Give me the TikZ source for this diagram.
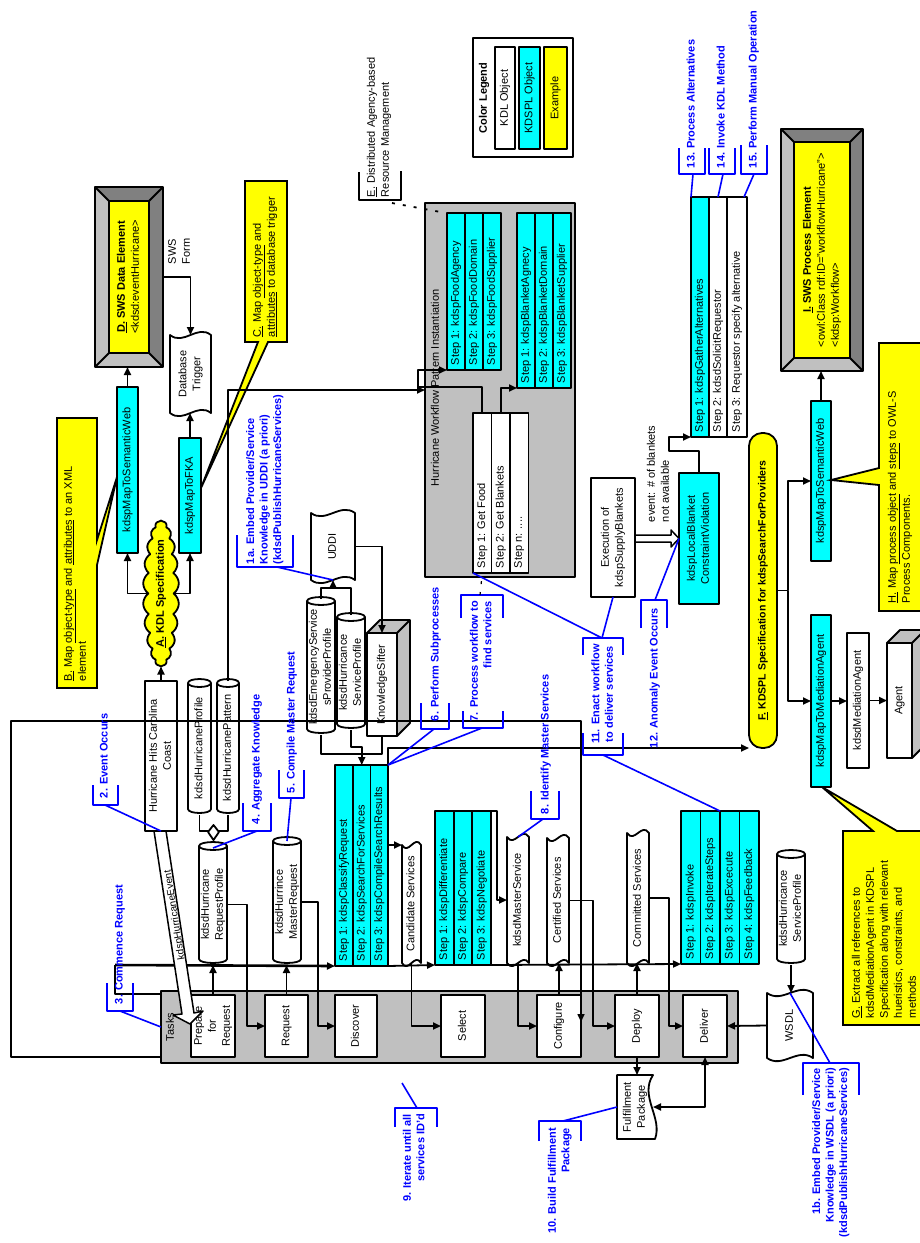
\documentclass[tikz,border=0pt]{standalone}
\usepackage{fontspec}
\setmainfont{Liberation Sans}
\usepackage{graphicx}
\usetikzlibrary{arrows.meta, shapes.geometric, shapes.symbols, positioning, calc}

\definecolor{kdsplcyan}{RGB}{0,255,255}
\definecolor{exyellow}{RGB}{255,255,0}
\definecolor{lanegray}{RGB}{192,192,192}
\definecolor{bvldark}{RGB}{128,128,128}
\definecolor{notebl}{RGB}{0,0,255}

% rotated text helpers
\newcommand\rt[2][c]{\rotatebox{90}{\begin{tabular}{@{}#1@{}}#2\end{tabular}}}
\newcommand\stp[2]{\rotatebox{90}{\makebox[#1pt][l]{\hspace{5pt}#2}}}

\tikzset{
  kdlbox/.style={
    rectangle, draw, line width=1.8pt, fill=white,
    inner sep=0pt, outer sep=0pt
  },
  kdsplbox/.style={kdlbox, fill=kdsplcyan},
  examplebox/.style={kdlbox, fill=exyellow},
  taskbox/.style={kdlbox, minimum width=44pt, minimum height=62pt},
  stepcell/.style={kdlbox, fill=#1, minimum width=18pt},
  stepcell/.default=kdsplcyan,
  plain/.style={inner sep=0pt, outer sep=0pt},
  flow/.style={line width=1.8pt, -{Triangle[length=8pt, width=7pt]}},
  link/.style={line width=1.8pt},
  note/.style={inner sep=0pt, outer sep=0pt, text=notebl,
    font=\fontsize{11}{13.5}\selectfont\bfseries},
  notebar/.style={draw=notebl, line width=1.6pt},
  callout/.style={fill=exyellow, draw, line width=1.8pt, line join=miter},
}

% shapes drawn round a named node: name, cx, cy, w, h, text
\newcommand\cylnode[6]{%
  \draw[link, fill=white]
    ({#2-#4/2},{#3-#5/2+4}) -- ({#2-#4/2},{#3+#5/2-4})
      .. controls ({#2-#4/2},{#3+#5/2+1.3}) and ({#2+#4/2},{#3+#5/2+1.3}) .. ({#2+#4/2},{#3+#5/2-4})
    -- ({#2+#4/2},{#3-#5/2+4})
      .. controls ({#2+#4/2},{#3-#5/2-1.3}) and ({#2-#4/2},{#3-#5/2-1.3}) .. cycle;
  \draw[link] ({#2-#4/2},{#3-#5/2+4})
      .. controls ({#2-#4/2},{#3-#5/2+9.3}) and ({#2+#4/2},{#3-#5/2+9.3}) .. ({#2+#4/2},{#3-#5/2+4});
  \node[plain, minimum width=#4pt, minimum height=#5pt] (#1) at (#2,{#3+2}) {\rt{#6}};}
\newcommand\tapenode[6]{%
  \draw[link, fill=white]
    ({#2-#4/2},{#3-#5/2})
      .. controls ({#2-#4/6},{#3-#5/2+11}) and ({#2+#4/6},{#3-#5/2-11}) .. ({#2+#4/2},{#3-#5/2})
    -- ({#2+#4/2},{#3+#5/2})
      .. controls ({#2+#4/6},{#3+#5/2-11}) and ({#2-#4/6},{#3+#5/2+11}) .. ({#2-#4/2},{#3+#5/2})
    -- cycle;
  \node[plain, minimum width=#4pt, minimum height=#5pt] (#1) at (#2,#3) {\rt{#6}};}
\newcommand\docnode[6]{%
  \draw[link, fill=white]
    ({#2-#4/2},{#3-#5/2}) -- ({#2+#4/2},{#3-#5/2})
      .. controls ({#2+#4/2-14},{#3-#5/6}) and ({#2+#4/2+10},{#3+#5/6}) .. ({#2+#4/2+2},{#3+#5/2})
    -- ({#2-#4/2},{#3+#5/2}) -- cycle;
  \node[plain, minimum width=#4pt, minimum height=#5pt] (#1) at (#2,#3) {\rt{#6}};}
\newcommand\cubenode[6]{%
  \node[kdlbox, minimum width=#4pt, minimum height=#5pt] (#1) at (#2,#3) {\rt{#6}};
  \draw[link, fill=lanegray] (#1.north west) -- ++(13,-13) -- ([shift={(13,-13)}]#1.north east)
    -- ([shift={(13,-13)}]#1.south east) -- (#1.south east) -- (#1.north east) -- cycle;
  \draw[link] (#1.north east) -- ++(13,-13);}
\newcommand\bevelnode[7]{%
  \node[plain, minimum width=#4pt, minimum height=#5pt] (#1) at (#2,#3) {};
  \fill[lanegray] (#1.north west) rectangle (#1.south east);
  \fill[bvldark] (#1.north west) -- (#1.north east) -- (#1.south east)
    -- ([shift={(-#6,-#6)}]#1.south east) -- ([shift={(-#6,#6)}]#1.north east)
    -- ([shift={(#6,#6)}]#1.north west) -- cycle;
  \draw[link] (#1.north west) rectangle (#1.south east);
  \draw[link] (#1.north west) -- ++(#6,#6) (#1.north east) -- ++(-#6,#6)
    (#1.south east) -- ++(-#6,-#6) (#1.south west) -- ++(#6,-#6);
  \node[examplebox, minimum width={(#4-2*#6)*1pt}, minimum height={(#5-2*#6)*1pt}] (#1-in) at (#2,#3) {#7};}

\begin{document}
\begin{tikzpicture}[x=1pt, y=-1pt, font=\fontsize{11}{14}\selectfont, line join=round]
\useasboundingbox (0,0) rectangle (920,1243);

% colour legend
\node[kdlbox, minimum width=100pt, minimum height=119pt] (legend) at (523,97.5) {};
\node[plain, font=\fontsize{11}{14}\selectfont\bfseries] (legtitle) at (484,98) {\rt{Color Legend}};
\node[kdlbox, minimum width=20pt, minimum height=102pt] (kdlkey) at (505,98) {\rt{KDL Object}};
\node[kdsplbox, minimum width=21pt, minimum height=102pt] (kdsplkey) at (529.5,98) {\rt{KDSPL Object}};
\node[examplebox, minimum width=23pt, minimum height=102pt] (exkey) at (555.5,98) {\rt{Example}};

% workflow pattern
\node[kdlbox, fill=lanegray, minimum width=150pt, minimum height=374pt] (wfbox) at (500,390) {};
\node[plain] (wftitle) at (436,388) {\rt{Hurricane Workflow Pattern Instantiation}};
\node[stepcell] (fs1) at (456,291.5) {\stp{157}{Step 1: kdspFoodAgency}};
\node[stepcell, right=0pt of fs1] (fs2) {\stp{157}{Step 2: kdspFoodDomain}};
\node[stepcell, right=0pt of fs2] (fs3) {\stp{157}{Step 3: kdspFoodSupplier}};
\node[stepcell] (bs1) at (526,300.5) {\stp{175}{Step 1: kdspBlanketAgnecy}};
\node[stepcell, right=0pt of bs1] (bs2) {\stp{175}{Step 2: kdspBlanketDomain}};
\node[stepcell, right=0pt of bs2] (bs3) {\stp{175}{Step 3: kdspBlanketSupplier}};
\node[stepcell=white, minimum width=18.5pt] (wf1) at (482.25,493) {\stp{160}{Step 1: Get Food}};
\node[stepcell=white, minimum width=18.5pt, right=0pt of wf1] (wf2) {\stp{160}{Step 2: Get Blankets}};
\node[stepcell=white, minimum width=18.5pt, right=0pt of wf2] (wf3) {\stp{160}{Step n: ....}};
\draw[flow] (wf1.north) |- (418,387) |- (fs1.south west);
\draw[flow] (wf2.north) |- (bs1.south west);

\node[plain, anchor=south] (enote) at (379,197) {\rt[l]{\underline{E.} Distributed Agency-based\\Resource Management}};
\draw[link, line width=1.5pt] (359,172) -- (359,200) -- (401,200) -- (401,171);
\draw[link, dash pattern=on 3pt off 8pt] (392,203) -- ([shift={(21,10)}]wfbox.north west);

% KDL side
\bevelnode{swsdata}{129}{277}{68}{180}{14}{\rt{\bfseries\underline{D.} SWS Data Element\\<kdsd:eventHurricane>}}
\node[plain, anchor=south] (swsform) at (180,264) {\rt[l]{SWS\\Form}};
\tapenode{dbtrig}{190.5}{374}{41}{78}{Database\\Trigger}
\draw[callout] (245,181) -- (287,181) -- (287,342) -- (268,342) -- (201,488) -- (258,342) -- (245,342) -- cycle;
\node[plain, anchor=south] (cnote) at (265,337) {\rt[l]{\underline{C.} Map \underline{object-type} and\\\underline{attributes} to database trigger}};
\draw[callout] (57,418) -- (97,418) -- (97,540) -- (117,477) -- (97,565) -- (97,688) -- (57,688) -- cycle;
\node[plain, anchor=south] (bnote) at (76,681) {\rt[l]{\underline{B.} Map \underline{object-type} and \underline{attributes} to an XML\\element}};
\node[kdsplbox, minimum width=21pt, minimum height=166pt] (semweb1) at (127.5,470) {\rt{kdspMapToSemanticWeb}};
\node[kdsplbox, minimum width=22pt, minimum height=115pt] (mapfka) at (190,495.5) {\rt{kdspMapToFKA}};
\node[examplebox, cloud, cloud puffs=22, cloud puff arc=110, cloud ignores aspect,
      minimum width=36pt, minimum height=146pt] (kdl) at (161,593.5) {};
\node[plain, font=\fontsize{11}{14}\selectfont\bfseries] (kdltxt) at (kdl) {\rt{\underline{A.} KDL Specification}};
\node[kdlbox, minimum width=32pt, minimum height=150pt] (hurricane) at (161,756) {\rt{Hurricane Hits Carolina\\Coast}};
\cylnode{hprofile}{199.5}{746}{23}{134}{kdsdHurricaneProfile}
\cylnode{hpattern}{228}{746}{22}{134}{kdsdHurricanePattern}
\cylnode{reqprof}{213}{902.5}{28}{121}{kdsdHurricane\\RequestProfile}
\cylnode{masterreq}{287}{900}{28}{126}{kdsdHurrince\\MasterRequest}
\draw[link] (hprofile.south) -- ++(0,16) -| (hpattern.south);
\draw[link, fill=white] (213.5,825) -- (219,832) -- (213.5,840) -- (208,832) -- cycle;

\draw[flow] (hurricane.north) -- (kdl.south);
\draw[flow] (kdl.west) -| (semweb1.south);
\draw[flow] (kdl.east) -| (mapfka.south);
\draw[flow] (semweb1.north) -- (semweb1.north |- swsdata.south);
\draw[flow] (swsdata.east) -| (dbtrig.north);
\draw[flow] (mapfka.north) -- (mapfka.north |- dbtrig.south);
\draw[flow] (hpattern.north) |- (wfbox.west);

% UDDI and KnowledgeSifter
\tapenode{uddi}{333}{546.5}{44}{67}{UDDI}
\cylnode{emerg}{321}{665}{28}{136}{kdsdEmergencyService\\sProviderProfile}
\cylnode{hserv}{351}{670.5}{28}{115}{kdsdHurricance\\ServiceProfile}
\cubenode{sifter}{382}{684.5}{30}{103}{KnowledgeSifter}
\coordinate (hub) at (333,588);
\draw[link] (emerg.north) |- (hub) -| (hserv.north);
\draw[flow] (hub) -- (uddi.south);
\draw[flow] (uddi.east) -| (sifter.north);
\draw[link] (emerg.south) -- ++(0,19) -| (sifter.south);

% tasks lane
\node[kdlbox, fill=lanegray, minimum width=577pt, minimum height=72pt] (lane) at (449.5,1027) {};
\node[plain] (tasks) at (171,1027) {\rt{Tasks}};
\node[taskbox] (prep) at (213,1026) {\rt{Prepare\\for\\Request}};
\node[taskbox, minimum width=43pt] (request) at (286.5,1026) {\rt{Request}};
\node[taskbox, minimum width=42pt] (discover) at (356,1026) {\rt{Discover}};
\node[taskbox] (select) at (463,1026) {\rt{Select}};
\node[taskbox] (configure) at (559,1026) {\rt{Configure}};
\node[taskbox] (deploy) at (637,1026) {\rt{Deploy}};
\node[taskbox] (deliver) at (705,1026) {\rt{Deliver}};

% KDSPL step groups
\node[stepcell] (cs1) at (344,865.5) {\stp{201}{Step 1: kdspClassifyRequest}};
\node[stepcell, minimum width=17.5pt, right=0pt of cs1] (cs2) {\stp{201}{Step 2: kdspSearchForServices}};
\node[stepcell, minimum width=17.5pt, right=0pt of cs2] (cs3) {\stp{201}{Step 3: kdspCompileSearchResults}};
\node[stepcell, minimum width=18.7pt] (ds1) at (444.3,888) {\stp{154}{Step 1: kdspDifferentiate}};
\node[stepcell, minimum width=18.7pt, right=0pt of ds1] (ds2) {\stp{154}{Step 2: kdspCompare}};
\node[stepcell, minimum width=18.7pt, right=0pt of ds2] (ds3) {\stp{154}{Step 3: kdspNegotiate}};
\node[stepcell, minimum width=19.5pt] (iv1) at (690.75,887.5) {\stp{153}{Step 1: kdspInvoke}};
\node[stepcell, minimum width=19.5pt, right=0pt of iv1] (iv2) {\stp{153}{Step 2: kdspIterateSteps}};
\node[stepcell, minimum width=19.5pt, right=0pt of iv2] (iv3) {\stp{153}{Step 3: kdspExcecute}};
\node[stepcell, minimum width=19.5pt, right=0pt of iv3] (iv4) {\stp{153}{Step 4: kdspFeedback}};

\tapenode{cand}{411.5}{904}{19}{118}{Candidate Services}
\tapenode{mserv}{518}{900}{22}{126}{kdsdMasterService}
\tapenode{cert}{558}{900.5}{22}{125}{Certified Services}
\tapenode{commit}{638}{898}{22}{130}{Committed Services}
\cylnode{hsp2}{791}{906.5}{28}{113}{kdsdHurricance\\ServiceProfile}
\tapenode{wsdl}{790}{1025.5}{46}{65}{WSDL}
\docnode{fulfil}{635}{1107}{36}{64}{Fulfillment\\Package}

% flow along the lane
\draw[flow] (prep.north) -- (prep.north |- reqprof.south);
\draw[flow] (reqprof.east) -- ++(20,0) |- (request.west);
\draw[flow] (request.north) -- (request.north |- masterreq.south);
\draw[flow] (masterreq.east) -- ++(17,0) |- (discover.west);
\draw[flow] (hserv.south) -- ++(0,17) -| (cs2.north);
\draw[flow] (cs3.east |- cand.north) -- (cand.north west);
\draw[flow] (cand.south) |- (select.west);
\draw[flow] (ds3.north east) -- ++(6,0) |- (mserv.west);
\draw[flow] (mserv.south) |- (configure.west);
\draw[flow] (configure.north) -- (configure.north |- cert.south);
\draw[flow] (cert.east) -- ++(24,0) |- (deploy.west);
\draw[flow] (deploy.north) -- (deploy.north |- commit.south);
\draw[flow] (commit.east) -- ++(20,0) |- (deliver.west);
\draw[flow] (deploy.south) -- (deploy.south |- fulfil.north);
\draw[link, {Triangle[length=8pt, width=7pt]}-{Triangle[length=8pt, width=7pt]}] (deliver.south) |- (fulfil.east);
\draw[flow] (wsdl.west) -- (deliver.east);
\draw[flow] (hsp2.south) -- (hsp2.south |- wsdl.north);

% bus and loops
\coordinate (busL) at (115,965);
\draw[flow, line width=2.6pt] (busL) -- (cs1.south west);
\draw[link, line width=2.6pt] (lane.north west) ++(0,3) -- ++(-46,0) -- (busL);
\draw[flow] (cs3.south east) -- (ds1.south west);
\draw[flow] (ds3.south east) -- (iv1.south west);
\draw[flow, line width=1.5pt] ([yshift=6pt]lane.south west) -| (11,721) -| ([yshift=4pt]configure.east);

% hurricane event
\draw[link, line width=1.5pt, fill=white] (154,831) -- (182,1014) -- (173,1015) -- (190,1024)
  -- (203,1011) -- (194,1013) -- (166,831) -- cycle;
\node[plain, rotate=99, font=\fontsize{10}{12}\selectfont] (hevent) at (175,915) {kdspHurricaneEvent};

% KDSPL specification side
\node[examplebox, rounded corners=13pt, minimum width=28pt, minimum height=315pt,
      font=\fontsize{10.5}{13}\selectfont\bfseries] (fspec) at (763,590.5)
      {\rt{\underline{F.} KDSPL Specification for kdspSearchForProviders}};
\draw[flow] (cs3.north east) |- (fspec.south west);
\node[kdlbox, minimum width=44pt, minimum height=119pt] (exec) at (613,537.5) {\rt{Execution of\\kdspSupplyBlankets}};
\node[kdsplbox, minimum width=40pt, minimum height=131pt] (lbcv) at (699,538.5) {\rt{kdspLocalBlanket\\ConstraintViolation}};
\node[plain, anchor=south] (evtxt) at (659,522) {\rt[l]{event: \# of blankets\\not available}};
\draw[link, line width=1.5pt, fill=white] (635,535) -- (671,535) -- (671,530) -- (679,538.5)
  -- (671,547) -- (671,542) -- (635,542) -- cycle;
\node[stepcell] (al1) at (700,317) {\stp{240}{Step 1: kdspGatherAlternatives}};
\node[stepcell=white, right=0pt of al1] (al2) {\stp{240}{Step 2: kdsdSolicitRequestor}};
\node[stepcell=white, minimum width=20pt, right=0pt of al2] (al3) {\stp{240}{Step 3: Requestor specify alternative}};
\draw[flow] (lbcv.north) |- (669,451) |- (al1.south west);

\bevelnode{swsproc}{822}{250}{82}{242}{13}{\rt[l]{\multicolumn{1}{@{}c@{}}{\bfseries\underline{I.} SWS Process Element}\\<owl:Class rdf:ID="workflowHurricane">\\<kdsp:Workflow>}}
\node[kdsplbox, minimum width=20pt, minimum height=160pt] (semweb2) at (821,481) {\rt{kdspMapToSemanticWeb}};
\node[kdsplbox, minimum width=20pt, minimum height=172pt] (mediation) at (821,701) {\rt{kdspMapToMediationAgent}};
\node[kdlbox, minimum width=22pt, minimum height=135pt] (medagent) at (858,700.5) {\rt{kdsdMediationAgent}};
\cubenode{agent}{899.5}{700.5}{25}{115}{Agent}
\draw[callout] (879,343) -- (935,343) -- (935,611) -- (879,611) -- (879,485) -- (831,480) -- (879,468) -- cycle;
\node[plain, anchor=south] (hnote) at (900,603) {\rt[l]{\underline{H.} Map \underline{process object} and \underline{steps} to OWL-S\\Process Components.}};
\draw[callout] (843,831) -- (873,831) -- (822,787) -- (897,831) -- (935,831) -- (935,1025) -- (843,1025) -- cycle;
\node[plain, anchor=south] (gnote) at (885,1018) {\rt[l]{\underline{G.} Extract all references to\\kdsdMediationAgent in KDSPL\\Specification along with relevant\\hueristics, constraints, and\\methods}};

\draw[flow] (fspec.east) -- ++(11,0) |- (semweb2.west);
\draw[flow] (fspec.east) ++(11,0) |- (mediation.west);
\draw[flow] (semweb2.north) -- (semweb2.north |- swsproc.south);
\draw[flow] (mediation.east) -- (mediation.east -| medagent.west);
\draw[flow] (medagent.east) -- (medagent.east -| agent.west);

% numbered steps
\node[note, anchor=south] (n1a) at (265,564) {\rt[l]{1a. Embed Provider/Service\\Knowledge in UDDI (a priori)\\(kdsdPublishHurricaneServices)}};
\draw[notebar] (237,535) -- (237,567) -- (293,567) -- (293,535);
\draw[notebar] (277,567) -- (uddi.south);
\node[note, anchor=south] (n2) at (105,798) {\rt{2. Event Occurs}};
\draw[notebar] (93,785) -- (93,805) -- (118,805) -- (118,785);
\draw[notebar] (105,805) -- (hurricane.south);
\node[note, anchor=south] (n3) at (120,1004) {\rt{3. Commence Request}};
\draw[notebar] (107,983) -- (107,1011) -- (133,1011) -- (133,983);
\draw[notebar] (120,1011) -- (lane.west);
\node[note, anchor=south] (n4) at (257,824) {\rt{4. Aggregate Knowledge}};
\draw[notebar] (243,803) -- (243,831) -- (271,831) -- (271,803);
\draw[notebar] (257,831) -- ([yshift=-4pt]reqprof.north);
\node[note, anchor=south] (n5) at (292,793) {\rt{5. Compile Master Request}};
\draw[notebar] (279,770) -- (279,798) -- (304,798) -- (304,770);
\draw[notebar] (291,798) -- ([yshift=-2pt]masterreq.north);
\node[note, anchor=south] (n6) at (436,721) {\rt{6. Perform Subprocesses}};
\draw[notebar] (421,703) -- (421,729) -- (449,729) -- (449,703);
\draw[notebar] (434,729) -- (cs3.north east);
\node[note, anchor=north] (n7) at (482,601) {\rt[r]{7. Process workflow to\\find services}};
\draw[notebar] (461,618) -- (461,595) -- (503,595) -- (503,618);
\draw[notebar] (463,711) -- (463,728) -- (503,728) -- (503,711);
\draw[notebar] (482,728) -- (cs3.north east);
\draw[link, line width=1.2pt, dash pattern=on 3pt off 8pt] (480,595) -- (wf1.south);
\node[note, anchor=south] (n8) at (546,814) {\rt{8. Identify Master Services}};
\draw[notebar] (531,791) -- (531,819) -- (559,819) -- (559,791);
\draw[notebar] (543,819) -- (mserv.north);
\node[note, anchor=north] (n9) at (415,1114) {\rt[r]{9. Iterate until all\\services ID'd}};
\draw[notebar] (395,1127) -- (395,1108) -- (437,1108) -- (437,1127);
\draw[notebar] (417,1108) -- (402,1083);
\node[note, anchor=north] (n10) at (560,1128) {\rt[r]{10. Build Fulfillment\\Package}};
\draw[notebar] (539,1141) -- (539,1121) -- (581,1121) -- (581,1141);
\draw[notebar] (563,1121) -- (fulfil.west);
\node[note] (n11) at (603.5,694) {\rt{11. Enact workflow\\to deliver services}};
\draw[notebar] (583,655) -- (583,638) -- (623,638) -- (623,655);
\draw[notebar] (583,733) -- (583,755) -- (623,755) -- (623,733);
\draw[notebar] (602,638) -- (wf1.south west);
\draw[notebar] (602,638) -- (exec.south);
\draw[notebar] (603,755) -- (iv3.north west);
\node[note, anchor=south] (n12) at (655,748) {\rt{12. Anomaly Event Occurs}};
\draw[notebar] (641,628) -- (641,600) -- (667,600) -- (667,628);
\draw[notebar] (655,600) -- (lbcv.west);
\node[note, anchor=south] (n13) at (692,168) {\rt{13. Process Alternatives}};
\draw[notebar] (679,148) -- (679,174) -- (705,174) -- (705,148);
\draw[notebar] (693,174) -- (al1.north west);
\node[note, anchor=south] (n14) at (722,168) {\rt{14. Invoke KDL Method}};
\draw[notebar] (709,148) -- (709,174) -- (735,174) -- (735,148);
\draw[notebar] (723,174) -- (al2.north);
\node[note, anchor=south] (n15) at (754,168) {\rt{15. Perform Manual Operation}};
\draw[notebar] (741,145) -- (741,174) -- (767,174) -- (767,145);
\draw[notebar] (754,174) -- ([xshift=7pt]al3.north);
\node[note, anchor=north] (n1b) at (831,1068) {\rt[r]{1b. Embed Provider/Service\\Knowledge in WSDL (a priori)\\(kdsdPublishHurricaneServices)}};
\draw[notebar] (803,1095) -- (803,1063) -- (859,1063) -- (859,1095);
\draw[notebar] (830,1063) -- (wsdl.north);
\end{tikzpicture}
\end{document}
